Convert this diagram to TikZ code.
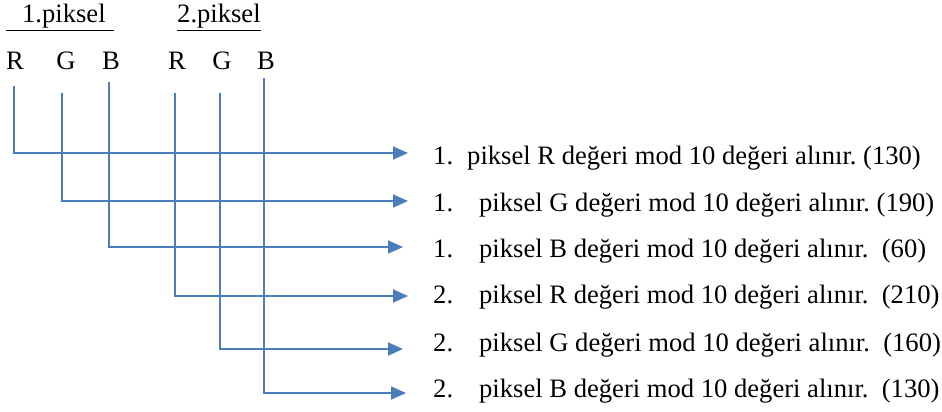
\documentclass[tikz,border=0pt]{standalone}
\usepackage{fontspec}
\setmainfont{Liberation Serif}
\usetikzlibrary{arrows.meta}
\definecolor{okmavi}{HTML}{4A7EBB}
\def\boy{\fontsize{26.6}{30}\selectfont\frenchspacing}

\begin{document}
\begin{tikzpicture}[x=1pt,y=-1pt,
	harf/.style={anchor=base,inner sep=0pt,font=\boy},
	satir/.style={anchor=base west,inner sep=0pt,font=\boy},
	ok/.style={draw=okmavi,line width=1.9pt,-{Triangle[length=15pt,width=13pt]}}]
\useasboundingbox (0,0) rectangle (942,412);
% basliklar
\node[satir] (p1) at (6,23) {\underline{\hspace{16pt}1.piksel\hspace{8pt}}};
\node[satir] (p2) at (177,23) {\underline{2.piksel}};
% harfler ve cizgilerin ust uclari
\foreach \ad/\h/\xh/\xc/\yc in {r1/R/15/14/86,g1/G/66/62/93,b1/B/111/109/82,r2/R/177/175/93,g2/G/222/220/93,b2/B/266/264/78}{
	\node[harf] (\ad) at (\xh,70) {\h};
	\coordinate (\ad u) at (\xc,\yc);
}
% satirlar ve oklar
\foreach \ad/\n/\bosluk/\h/\sonuc/\yb/\ya/\uc in {
	r1/1/34/R/{\ (130)}/164/153/408,
	g1/1/46/G/{\ (190)}/211/201/408,
	b1/1/46/B/{\ \ (60)}/257/247/403,
	r2/2/46/R/{\ \ (210)}/303/296/408,
	g2/2/46/G/{\ \ (160)}/351/349/403,
	b2/2/46/B/{\ \ (130)}/397/393/406}{
	\node[satir] (t\ad) at (433,\yb) {\makebox[\bosluk pt][l]{\n.}piksel \h\ değeri mod 10 değeri alınır.\sonuc};
	\coordinate (\ad o) at (\uc,\ya);
	\draw[ok] (\ad u) |- (\ad o);
}
\end{tikzpicture}
\end{document}
